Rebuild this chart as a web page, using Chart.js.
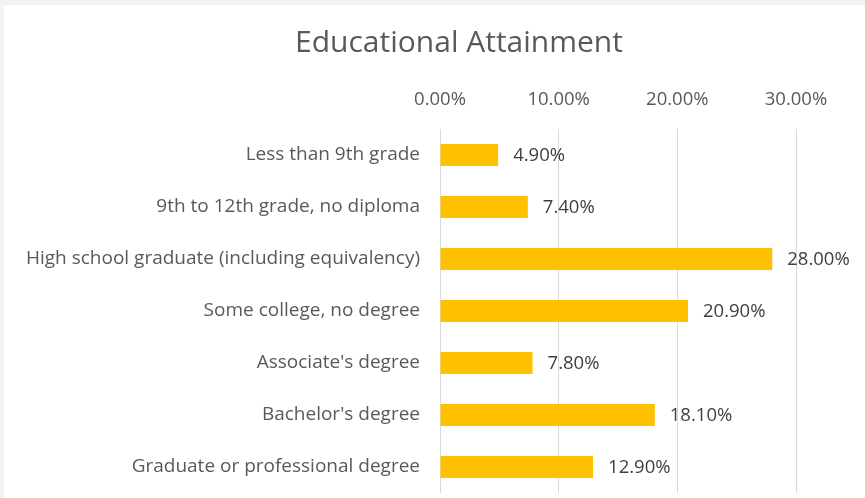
<!DOCTYPE html>
<html>
<head>
<meta charset="utf-8">
<script src="https://cdn.jsdelivr.net/npm/chart.js@4/dist/chart.umd.min.js"></script>
<style>
  html, body { margin: 0; padding: 0; background: #f2f2f2; }
  body { width: 865px; height: 498px; position: relative; overflow: hidden; }
  #card { position: absolute; left: 4px; top: 5px; width: 861px; height: 493px; background: #ffffff; }
  canvas { display: block; }
</style>
</head>
<body>
<div id="card"><canvas id="chart" width="861" height="493"></canvas></div>
<script>
// Educational attainment, share of population (percent)
const categories = [
  "Less than 9th grade",
  "9th to 12th grade, no diploma",
  "High school graduate (including equivalency)",
  "Some college, no degree",
  "Associate's degree",
  "Bachelor's degree",
  "Graduate or professional degree"
];
const shares = [4.9, 7.4, 28.0, 20.9, 7.8, 18.1, 12.9];
const tickValues = [0, 10, 20, 30];
const chartTitle = "Educational Attainment";

const FONT = "'Open Sans', sans-serif";

// Title centred over the plot region rather than the full canvas
const titlePlugin = {
  id: 'centredTitle',
  afterDraw(chart) {
    const ctx = chart.ctx;
    ctx.save();
    ctx.font = "30px " + FONT;
    ctx.fillStyle = "#595959";
    ctx.textAlign = "center";
    ctx.textBaseline = "alphabetic";
    ctx.fillText(chartTitle, 455, 47);
    ctx.restore();
  }
};

// Value labels placed just past the end of each bar
const valueLabels = {
  id: 'valueLabels',
  afterDatasetsDraw(chart) {
    const ctx = chart.ctx;
    const meta = chart.getDatasetMeta(0);
    ctx.save();
    ctx.font = "18.5px " + FONT;
    ctx.fillStyle = "#404040";
    ctx.textAlign = "left";
    ctx.textBaseline = "middle";
    meta.data.forEach((bar, i) => {
      ctx.fillText(shares[i].toFixed(2) + "%", bar.x + 15, bar.y + 1);
    });
    ctx.restore();
  }
};

new Chart(document.getElementById('chart'), {
  type: 'bar',
  data: {
    labels: categories,
    datasets: [{
      data: shares,
      backgroundColor: '#FFC000',
      borderWidth: 0,
      barPercentage: 0.42,
      categoryPercentage: 1.0
    }]
  },
  options: {
    indexAxis: 'y',
    responsive: false,
    animation: false,
    events: [],
    layout: { padding: { top: 70, right: 69, bottom: 5, left: 0 } },
    plugins: {
      legend: { display: false },
      title: { display: false },
      tooltip: { enabled: false }
    },
    scales: {
      x: {
        position: 'top',
        min: 0,
        max: 30,
        afterBuildTicks(scale) {
          scale.ticks = tickValues.map(v => ({ value: v }));
        },
        afterFit(scale) {
          scale.height = 54;
          scale.paddingLeft = 0;
          scale.paddingRight = 0;
        },
        ticks: {
          font: { family: FONT, size: 18.5 },
          color: '#595959',
          padding: 18,
          callback: v => v.toFixed(2) + "%"
        },
        grid: { color: '#d9d9d9', lineWidth: 1, drawTicks: false },
        border: { display: false }
      },
      y: {
        afterFit(scale) {
          scale.width = 436;
          scale.paddingTop = 0;
          scale.paddingBottom = 0;
        },
        ticks: {
          font: { family: FONT, size: 19 },
          color: '#595959',
          padding: 20
        },
        grid: { display: false, drawTicks: false },
        border: { display: false }
      }
    }
  },
  plugins: [titlePlugin, valueLabels]
});
</script>
</body>
</html>
